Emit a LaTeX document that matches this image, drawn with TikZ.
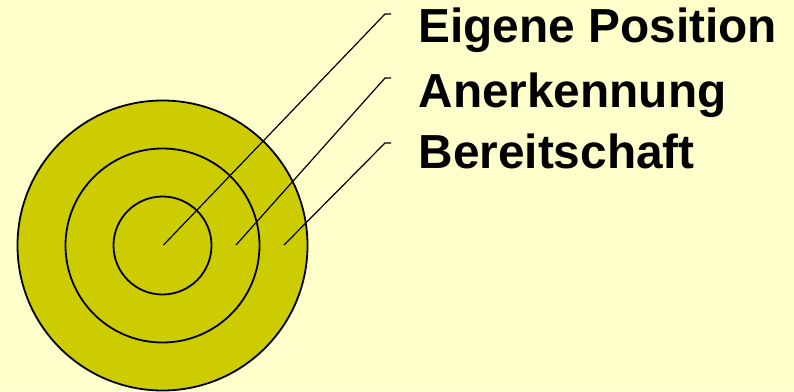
\documentclass[tikz,border=0pt]{standalone}
\usepackage{fontspec}
\setmainfont{Liberation Sans}
\definecolor{paper}{HTML}{FFFFCC}
\definecolor{olive}{HTML}{CCCC00}
\tikzset{
  ring/.style={draw=black,line width=1.8pt,fill=olive},
  lead/.style={draw=black,line width=1.2pt},
  label/.style={inner sep=0pt,anchor=base west,font=\bfseries\fontsize{47.8}{52}\selectfont}
}
\begin{document}
\begin{tikzpicture}[x=1pt,y=-1pt]
            \fill[paper] (0,0) rectangle (794,391);
            \useasboundingbox (0,0) rectangle (794,391);
            % Rings
            \path[ring] (162.5,245.5) circle[radius=145];
            \path[ring] (162.5,245.5) circle[radius=97];
            \path[ring] (162.5,245.5) circle[radius=49];
            % Points inside the rings
            \coordinate (p1) at (163.5,245);
            \coordinate (p2) at (236,245);
            \coordinate (p3) at (284,245);
            % Labels
            \node[label] (pos) at (418.3,42.7) {Eigene Position};
            \node[label] (ank) at (418.3,107.3) {Anerkennung};
            \node[label] (ber) at (418.3,168.3) {Bereitschaft};
            % Knees of the leaders
            \coordinate (k1) at (385,14);
            \coordinate (k2) at (385,78);
            \coordinate (k3) at (385,143);
            \coordinate (e1) at (391,14);
            \coordinate (e2) at (391,78);
            \coordinate (e3) at (391,143);
            % Leaders
            \draw[lead] (p1) -- (k1) -- (e1);
            \draw[lead] (p2) -- (k2) -- (e2);
            \draw[lead] (p3) -- (k3) -- (e3);
          \end{tikzpicture}
\end{document}
